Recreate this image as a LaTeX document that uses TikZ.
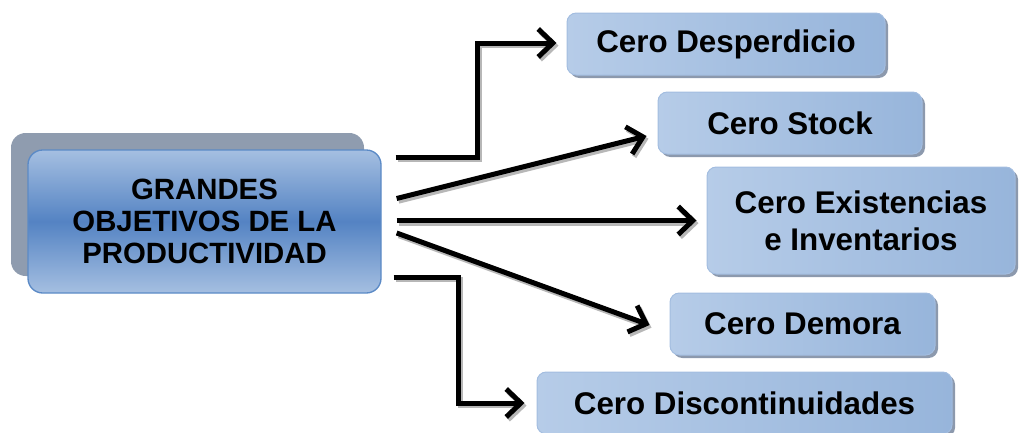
\documentclass[tikz,border=0pt]{standalone}
\usepackage{fontspec}
\setmainfont{Liberation Sans}
\usetikzlibrary{arrows.meta,calc,shadows}

\definecolor{backgray}{HTML}{8F9CAF}
\definecolor{shadowgray}{HTML}{8C99AD}
\definecolor{maintop}{HTML}{A5BFE1}
\definecolor{mainmid}{HTML}{5483C3}
\definecolor{mainedge}{HTML}{5B8AC6}
\definecolor{goalleft}{HTML}{B6CCE8}
\definecolor{goalmid}{HTML}{E1EAF5}
\definecolor{goalright}{HTML}{97B5DB}
\definecolor{goaledge}{HTML}{A3BDE0}

\newcommand\connector[1]{\draw[linkshadow] #1; \draw[link] #1;}

\tikzset{
  mainbox/.style={rounded corners=11pt, draw=mainedge, line width=1pt,
    top color=maintop, bottom color=maintop, middle color=mainmid,
    minimum width=264.75pt, minimum height=107.25pt, align=center,
    font=\fontsize{22}{24}\selectfont\bfseries, text=black},
  backbox/.style={rounded corners=11pt, fill=backgray,
    minimum width=264.75pt, minimum height=107.25pt},
  goal/.style={rounded corners=7pt, draw=goaledge, line width=0.75pt,
    left color=goalleft, middle color=goalmid, right color=goalright,
    drop shadow={shadow xshift=2.25pt, shadow yshift=-2.25pt, fill=shadowgray, opacity=1},
    minimum height=46.5pt, align=center,
    font=\fontsize{23.5}{27.75}\selectfont\bfseries, text=black},
  link/.style={line width=3.75pt, draw=black,
    -{Straight Barb[length=11pt, width=21pt]}},
  linkshadow/.style={line width=3.75pt, draw=black!40, opacity=0.7,
    transform canvas={xshift=1.5pt, yshift=-2pt},
    -{Straight Barb[length=11pt, width=21pt]}},
}

\begin{document}
\begin{tikzpicture}[x=0.75pt, y=-0.75pt]
\useasboundingbox (0,0) rectangle (1019,432);

% central topic with its offset backing card
\node[backbox] (mainback) at (187.5,204.5) {};
\node[mainbox] (main) at (204.5,221.5) {GRANDES\\OBJETIVOS DE LA\\PRODUCTIVIDAD};

% the five goals
\node[goal, minimum width=238.5pt] (des) at (726,44) {Cero Desperdicio};
\node[goal, minimum width=198pt] (stock) at (790,123) {Cero Stock};
\node[goal, minimum width=231pt, minimum height=80.25pt] (exist) at (861,220.5)
  {Cero Existencias\\e Inventarios};
\node[goal, minimum width=198.75pt] (demora) at (802.5,324) {Cero Demora};
\node[goal, minimum width=311.25pt] (disc) at (744.5,403) {Cero Discontinuidades};

% connectors
\connector{($(main.east)+(14,-64.5)$) -- ++(82,0) |- ($(des.west)+(-10,-1)$)}
\connector{($(main.east)+(15,-23)$) -- ($(stock.west)+(-11,13)$)}
\connector{($(main.east)+(15,-1)$) -- ($(exist.west)+(-10,0)$)}
\connector{($(main.east)+(15,11.5)$) -- ($(demora.west)+(-20,1)$)}
\connector{($(main.east)+(12,55.5)$) -- ++(65,0) |- ($(disc.west)+(-12,0)$)}
\end{tikzpicture}
\end{document}
